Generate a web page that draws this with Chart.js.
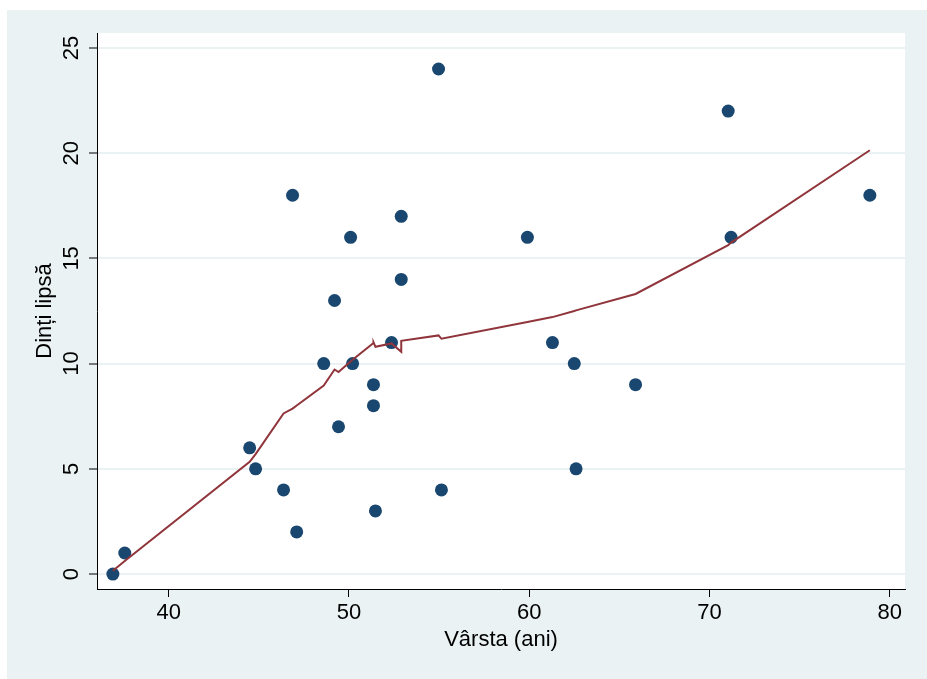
<!DOCTYPE html>
<html>
<head>
<meta charset="utf-8">
<script src="https://cdn.jsdelivr.net/npm/chart.js@4"></script>
<style>
    body { margin: 0; background: #ffffff; }
    canvas { display: block; }
</style>
</head>
<body>
<canvas id="graphique" width="927" height="679"></canvas>
<script>
// valori
const varste = [36.9, 37.56, 44.49, 44.82, 46.37, 46.87, 47.1, 48.6, 49.2, 49.42, 50.09, 50.2, 51.36, 51.36, 51.47, 52.36, 52.9, 52.9, 54.97, 55.13, 59.9, 61.29, 62.5, 62.6, 65.9, 71.04, 71.2, 78.9];
const dintiLipsa = [0, 1, 6, 5, 4, 18, 2, 10, 13, 7, 16, 10, 9, 8, 3, 11, 17, 14, 24, 4, 16, 11, 10, 5, 9, 22, 16, 18];
const lowess = [0.16, 0.62, 5.33, 5.7, 7.63, 7.86, 8.01, 8.96, 9.72, 9.6, 10.1, 10.18, 10.98, 11.02, 10.8, 10.96, 10.56, 11.08, 11.34, 11.18, 11.98, 12.21, 12.5, 12.53, 13.31, 15.63, 15.75, 20.14];
const ticksX = [40, 50, 60, 70, 80];
const ticksY = [0, 5, 10, 15, 20, 25];

const fundal = {
    id: "fundal",
    beforeDraw(chart) {
        const ctx = chart.ctx;
        const a = chart.chartArea;
        ctx.save();
        ctx.fillStyle = "#ffffff";
        ctx.fillRect(0, 0, chart.width, chart.height);
        ctx.fillStyle = "#eaf2f3";
        ctx.fillRect(7, 10, chart.width - 7, chart.height - 10);
        ctx.fillStyle = "#ffffff";
        ctx.fillRect(a.left, a.top, a.right - a.left, a.bottom - a.top);
        ctx.restore();
    }
};

const ctx = document.getElementById("graphique");
new Chart(ctx, {
    type: "scatter",
    data: {
        datasets: [{
            label: "lowess",
            data: varste.map((x, i) => ({ x: x, y: lowess[i] })),
            showLine: true,
            borderColor: "#90353b",
            borderWidth: 2,
            pointRadius: 0,
            tension: 0,
            order: 0
        }, {
            label: "Dinți lipsă",
            data: varste.map((x, i) => ({ x: x, y: dintiLipsa[i] })),
            backgroundColor: "#1a476f",
            borderColor: "#1a476f",
            pointRadius: 6.5,
            pointBorderWidth: 0,
            order: 1
        }]
    },
    options: {
        responsive: false,
        animation: false,
        layout: { padding: { left: 0, right: 22, top: 33, bottom: 0 } },
        plugins: {
            legend: { display: false },
            tooltip: { enabled: false }
        },
        scales: {
            x: {
                type: "linear",
                min: 36.02,
                max: 80.85,
                afterBuildTicks: s => { s.ticks = ticksX.map(v => ({ value: v })); },
                afterFit: s => { s.height = 90; },
                grid: { drawOnChartArea: false, tickColor: "#000000", tickLength: 8, tickWidth: 1 },
                border: { color: "#000000", width: 1 },
                ticks: {
                    color: "#000000",
                    padding: 3,
                    maxRotation: 0,
                    font: { family: "'Liberation Sans', Arial, sans-serif", size: 22 }
                },
                title: {
                    display: true,
                    text: "Vârsta (ani)",
                    color: "#000000",
                    padding: { top: 0, bottom: 26 },
                    font: { family: "'Liberation Sans', Arial, sans-serif", size: 22 }
                }
            },
            y: {
                type: "linear",
                min: -0.71,
                max: 25.71,
                afterBuildTicks: s => { s.ticks = ticksY.map(v => ({ value: v })); },
                afterFit: s => { s.width = 97; },
                grid: { color: "#eaf2f3", lineWidth: 2, tickColor: "#000000", tickLength: 8, tickWidth: 1 },
                border: { color: "#000000", width: 1 },
                ticks: {
                    color: "#000000",
                    padding: 5,
                    minRotation: 90,
                    maxRotation: 90,
                    crossAlign: "center",
                    font: { family: "'Liberation Sans', Arial, sans-serif", size: 22 }
                },
                title: {
                    display: true,
                    text: "Dinți lipsă",
                    color: "#000000",
                    padding: { top: 32, bottom: 0 },
                    font: { family: "'Liberation Sans', Arial, sans-serif", size: 22 }
                }
            }
        }
    },
    plugins: [fundal]
});
</script>
</body>
</html>
